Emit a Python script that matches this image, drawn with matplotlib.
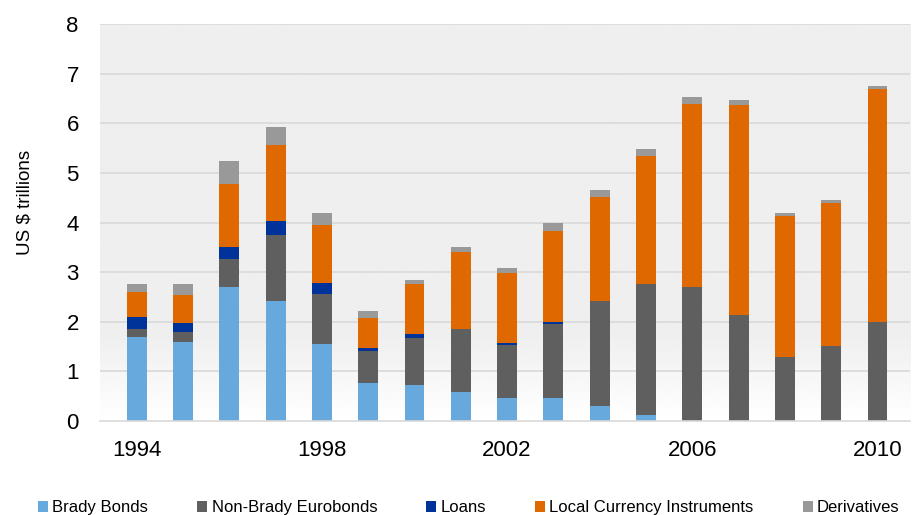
import numpy as np
import matplotlib.pyplot as plt
from matplotlib.patches import Patch

plt.rcParams['font.family'] = ['Liberation Sans', 'DejaVu Sans']

years = list(range(1994, 2011))
brady = [1.69, 1.59, 2.71, 2.42, 1.55, 0.76, 0.73, 0.58, 0.46, 0.46, 0.31, 0.12, 0, 0, 0, 0, 0]
non_brady = [0.17, 0.21, 0.56, 1.34, 1.02, 0.65, 0.95, 1.27, 1.07, 1.50, 2.11, 2.64, 2.71, 2.13, 1.30, 1.52, 1.99]
loans = [0.23, 0.18, 0.23, 0.28, 0.21, 0.06, 0.08, 0.01, 0.04, 0.04, 0, 0, 0, 0, 0, 0, 0]
local_ccy = [0.52, 0.57, 1.28, 1.53, 1.18, 0.61, 1.00, 1.55, 1.41, 1.84, 2.10, 2.58, 3.69, 4.25, 2.83, 2.88, 4.70]
derivs = [0.15, 0.21, 0.47, 0.36, 0.24, 0.13, 0.09, 0.10, 0.10, 0.15, 0.13, 0.15, 0.14, 0.10, 0.07, 0.06, 0.06]

series = [
    ('Brady Bonds', brady, '#67a9dc'),
    ('Non-Brady Eurobonds', non_brady, '#5f5f5f'),
    ('Loans', loans, '#003399'),
    ('Local Currency Instruments', local_ccy, '#e06800'),
    ('Derivatives', derivs, '#999999'),
]

fig = plt.figure(figsize=(9.14, 5.15), dpi=100)
ax = fig.add_axes([0.109, 0.1825, 0.887, 0.7705])

x = np.arange(len(years))
xmin, xmax = -0.8, len(years) - 1 + 0.71

# background: flat light grey fading to white near the floor
t = np.linspace(0, 8, 200)
shade = np.where(t > 1.7, 0.937, 0.937 + (1 - 0.937) * (1.7 - t) / 1.7)
ax.imshow(shade[:, None], extent=[xmin, xmax, 0, 8], origin='lower',
          aspect='auto', cmap='gray', vmin=0, vmax=1, zorder=0)

for yv in range(1, 9):
    ax.axhline(yv, color='#d9d9d9', lw=1.2, zorder=1)

bottom = np.zeros(len(years))
for name, vals, col in series:
    vals = np.array(vals)
    ax.bar(x, vals, width=0.43, bottom=bottom, color=col, zorder=2,
           edgecolor='none')
    bottom += vals

ax.set_xlim(xmin, xmax)
ax.set_ylim(0, 8)
ax.set_yticks(range(0, 9))
tick_idx = [0, 4, 8, 12, 16]
ax.set_xticks(tick_idx)
ax.set_xticklabels([str(years[i]) for i in tick_idx])
ax.tick_params(axis='both', length=0, labelsize=16, colors='#000000')
ax.tick_params(axis='x', pad=14)
ax.tick_params(axis='y', pad=15)
for s in ['top', 'right', 'left']:
    ax.spines[s].set_visible(False)
ax.spines['bottom'].set_color('#d9d9d9')
ax.spines['bottom'].set_linewidth(1.2)
ax.set_ylabel('US $ trillions', fontsize=13.5)
ax.yaxis.set_label_coords(-0.081, 0.55)

handles = [Patch(facecolor=c, label=n) for n, _, c in series]
fig.legend(handles=handles, loc='lower center', ncol=5, frameon=False,
           bbox_to_anchor=(0.513, -0.03), fontsize=12, handlelength=0.6,
           handleheight=0.6, handletextpad=0.25, columnspacing=2.95)

plt.savefig('out.png', dpi=100)
